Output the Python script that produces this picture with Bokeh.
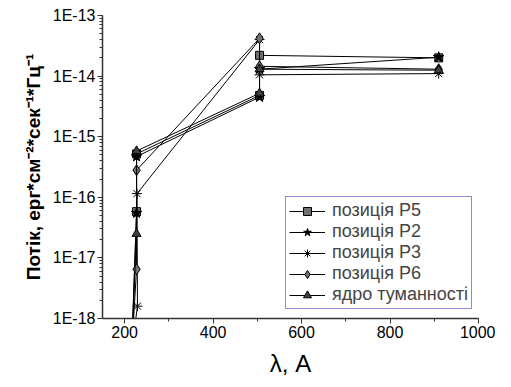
from bokeh.plotting import figure
from bokeh.models import Range1d, SingleIntervalTicker, CustomJSTickFormatter, Legend, LegendItem, LogTicker
from bokeh.embed import file_html
from bokeh.resources import INLINE

# wavelength (A) and flux values for each position
lam_p5 = [216, 227, 227, 505, 505, 910]
flux_p5 = [3e-19, 5.8e-17, 5.2e-16, 4.8e-15, 2.2e-14, 2.0e-14]

lam_p2 = [216, 227, 227, 505, 505, 910]
flux_p2 = [3e-19, 5.5e-17, 4.7e-16, 4.5e-15, 1.3e-14, 2.05e-14]

lam_p3 = [216, 229, 228, 505, 505, 910]
flux_p3 = [3e-19, 1.6e-18, 1.15e-16, 4.0e-14, 1.05e-14, 1.1e-14]

lam_p6 = [216, 227, 227, 505, 505, 910]
flux_p6 = [3e-19, 6.5e-18, 2.8e-16, 4.2e-14, 1.45e-14, 1.3e-14]

lam_core = [216, 227, 227, 505, 505, 910]
flux_core = [3e-19, 2.5e-17, 5.8e-16, 5.2e-15, 1.3e-14, 1.25e-14]

labels = ["позиція P5", "позиція P2", "позиція P3", "позиція P6", "ядро туманності"]
x_ticks_interval = 200

FONT = "Liberation Sans"

p = figure(width=495, height=379, y_axis_type="log",
           x_range=Range1d(150, 1000), y_range=Range1d(1e-18, 1e-13),
           output_backend="svg", toolbar_location=None,
           min_border_left=102, min_border_right=17, min_border_top=15, min_border_bottom=56)
p.grid.visible = False
p.outline_line_color = None

series = [
    (lam_p5, flux_p5, "square", "#707070", 8),
    (lam_p2, flux_p2, "star", "black", 11),
    (lam_p3, flux_p3, "asterisk", "black", 10),
    (lam_p6, flux_p6, "diamond", "#707070", 11),
    (lam_core, flux_core, "triangle", "#404040", 9),
]

items = []
for (xs, ys, marker, fill, size), lab in zip(series, labels):
    r1 = p.line(xs, ys, line_color="black", line_width=1)
    r2 = p.scatter(xs, ys, marker=marker, size=size, fill_color=fill,
                   line_color="black", line_width=1)
    items.append(LegendItem(label=lab, renderers=[r1, r2]))

legend = Legend(items=items, location=(183, 9),
                label_text_font=FONT, label_text_font_size="18px",
                glyph_width=36, glyph_height=20, label_height=20,
                spacing=0, padding=3, margin=0, label_standoff=7,
                border_line_color="#1a1aa0", border_line_width=1,
                background_fill_color="white", background_fill_alpha=1)
p.add_layout(legend, "center")

xa = p.xaxis[0]
xa.ticker = SingleIntervalTicker(interval=x_ticks_interval, num_minor_ticks=2)
ya = p.yaxis[0]
ya.ticker = LogTicker(num_minor_ticks=10)
ya.formatter = CustomJSTickFormatter(code="return '1E' + Math.round(Math.log10(tick));")

for ax in (xa, ya):
    ax.axis_line_color = "#333333"
    ax.axis_line_width = 1.5
    ax.major_tick_line_color = "#333333"
    ax.minor_tick_line_color = "#333333"
    ax.major_tick_in = 0
    ax.major_tick_out = 5
    ax.minor_tick_in = 0
    ax.minor_tick_out = 3
    ax.major_label_text_font = FONT
    ax.major_label_text_font_size = "16px"
    ax.major_label_text_color = "black"
    ax.major_label_standoff = 2
    ax.axis_label_text_font = FONT
    ax.axis_label_text_color = "black"

xa.axis_label = "λ, A"
xa.axis_label_text_font_size = "24px"
xa.axis_label_text_font_style = "normal"
xa.axis_label_standoff = 9

ya.axis_label = "Потік, ерг*см⁻²*сек⁻¹*Гц⁻¹"
ya.axis_label_text_font_size = "19px"
ya.axis_label_text_font_style = "bold"
ya.axis_label_standoff = 6

open("out.html", "w").write(file_html(p, INLINE))
